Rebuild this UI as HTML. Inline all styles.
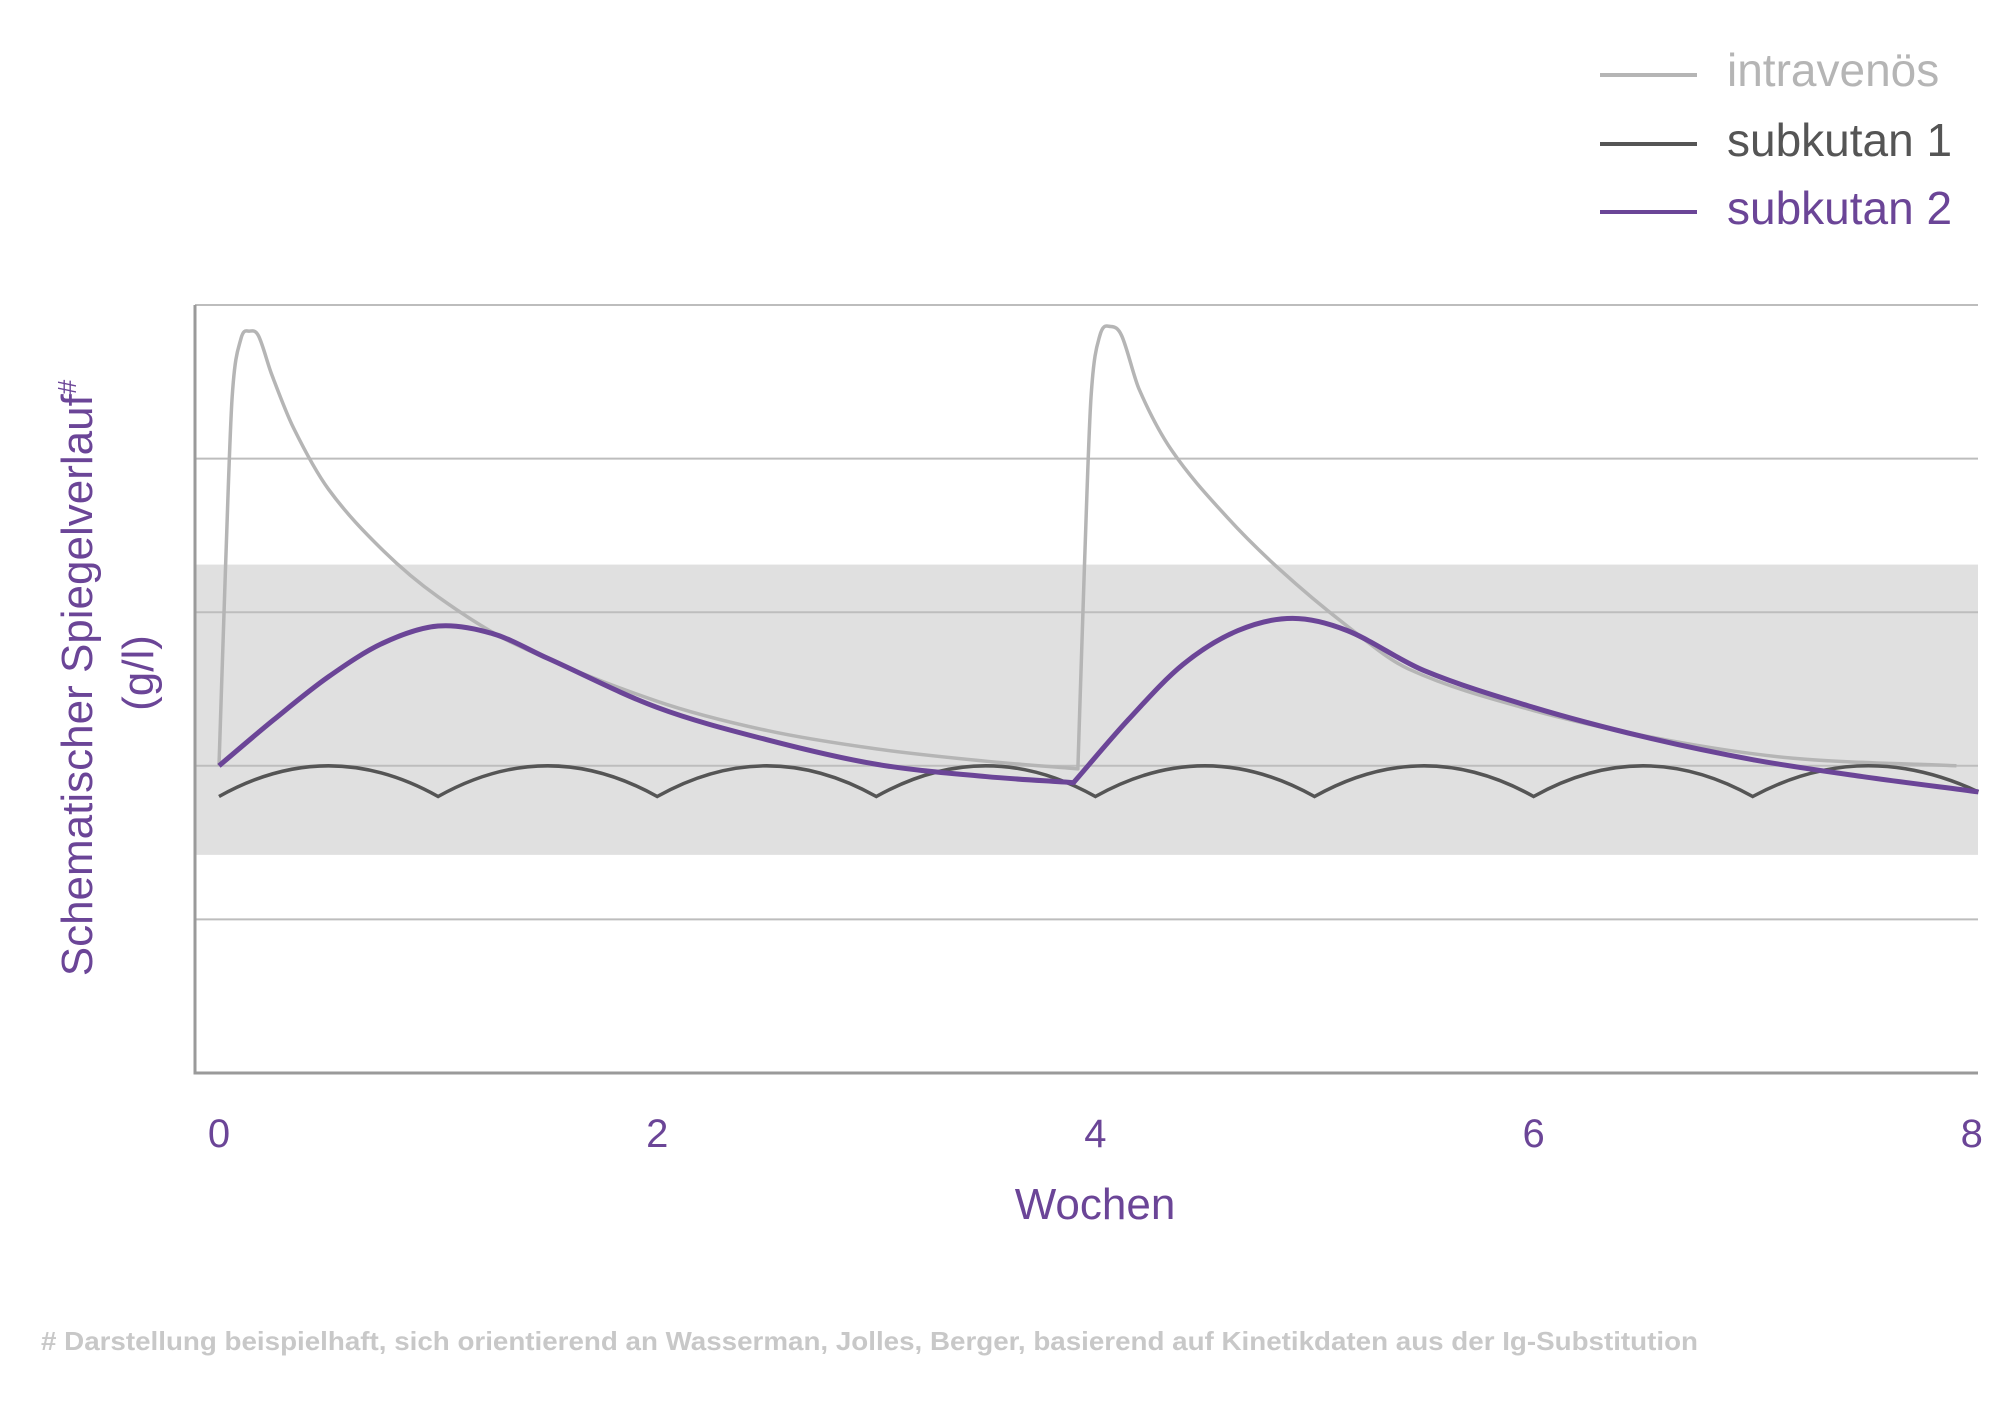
<!DOCTYPE html>
<html><head><meta charset="utf-8"><style>
html,body{margin:0;padding:0;background:#fff;}
svg{display:block;font-family:"Liberation Sans",sans-serif;}
</style></head><body>
<svg id="chart" width="2008" height="1428" viewBox="0 0 2008 1428">
  <g id="legend">
    <g>
      <line x1="1600" y1="75" x2="1697" y2="75" stroke="#b5b5b5" stroke-width="4"/>
      <text x="1727" y="86" font-size="46" fill="#b5b5b5">intravenös</text>
    </g>
    <g>
      <line x1="1600" y1="144" x2="1697" y2="144" stroke="#555" stroke-width="4"/>
      <text x="1727" y="156" font-size="46" fill="#555">subkutan 1</text>
    </g>
    <g>
      <line x1="1600" y1="212" x2="1697" y2="212" stroke="#6b4597" stroke-width="4"/>
      <text x="1727" y="224" font-size="46" fill="#6b4597">subkutan 2</text>
    </g>
  </g>
  <g id="plot"></g>
  <text x="1095" y="1219" font-size="44" fill="#6b4597" text-anchor="middle">Wochen</text>
  <text transform="translate(92,678) rotate(-90)" font-size="44" fill="#6b4597" text-anchor="middle">Schematischer Spiegelverlauf<tspan font-size="26" dy="-16">#</tspan></text>
  <text transform="translate(153,673) rotate(-90)" font-size="44" fill="#6b4597" text-anchor="middle">(g/l)</text>
  <text x="41" y="1350" font-size="26" fill="#c8c8c8" font-weight="bold" textLength="1657" lengthAdjust="spacingAndGlyphs"># Darstellung beispielhaft, sich orientierend an Wasserman, Jolles, Berger, basierend auf Kinetikdaten aus der Ig-Substitution</text>
</svg>
<script>
const xTicks = [0, 2, 4, 6, 8];
const yGrid = [1, 2, 3, 4, 5];
const band = [1.42, 3.31];
const ivTimes1 = [0, 0.03, 0.06, 0.1, 0.14, 0.18, 0.24, 0.34, 0.5, 0.75, 1.0, 1.34, 2.0, 2.5, 3.0, 3.5, 3.92];
const ivValues1 = [2.0, 3.3, 4.4, 4.78, 4.83, 4.8, 4.55, 4.2, 3.8, 3.4, 3.1, 2.8, 2.42, 2.23, 2.11, 2.03, 1.98];
const ivTimes2 = [3.92, 3.95, 3.98, 4.02, 4.07, 4.12, 4.2, 4.35, 4.6, 4.84, 5.14, 5.43, 6.0, 6.6, 7.18, 7.93];
const ivValues2 = [1.98, 3.3, 4.4, 4.8, 4.86, 4.8, 4.45, 4.05, 3.62, 3.28, 2.92, 2.63, 2.36, 2.17, 2.05, 2.0];
const s1Times = [0, 0.5, 1, 1.5, 2, 2.5, 3, 3.5, 4, 4.5, 5, 5.5, 6, 6.5, 7, 7.5, 8.03];
const s1Values = [1.8, 2.0, 1.8, 2.0, 1.8, 2.0, 1.8, 2.0, 1.8, 2.0, 1.8, 2.0, 1.8, 2.0, 1.8, 2.0, 1.83];
const s2Times1 = [0, 0.25, 0.5, 0.75, 1.0, 1.25, 1.5, 2.0, 2.5, 3.0, 3.5, 3.9];
const s2Values1 = [2.0, 2.3, 2.58, 2.8, 2.91, 2.86, 2.7, 2.38, 2.17, 2.01, 1.93, 1.89];
const s2Times2 = [3.9, 4.15, 4.4, 4.65, 4.9, 5.15, 5.5, 6.0, 6.5, 7.0, 7.5, 8.03];
const s2Values2 = [1.89, 2.3, 2.66, 2.88, 2.96, 2.88, 2.62, 2.38, 2.19, 2.04, 1.93, 1.83];

const X0 = 219, XPW = 219.1, Y0 = 1073, YPU = 153.6;
const AXL = 195, AXR = 1978, AXT = 305;
function xs(t){ return X0 + t * XPW; }
function ys(v){ return Y0 - v * YPU; }
const NS = 'http://www.w3.org/2000/svg';
const plot = document.getElementById('plot');
function mk(tag, attrs){ const e = document.createElementNS(NS, tag); for (const k in attrs) e.setAttribute(k, attrs[k]); plot.appendChild(e); return e; }

const b = mk('rect', {x: AXL, y: ys(band[1]), width: AXR - AXL, height: ys(band[0]) - ys(band[1]), fill: '#e0e0e0'});


yGrid.forEach(v => {
  const g = mk('line', {x1: AXL, x2: AXR, y1: ys(v), y2: ys(v), stroke: '#bdbdbd', 'stroke-width': 2});
  
  
});
const ax = mk('path', {d: `M${AXL},${AXT} V${Y0} H${AXR}`, fill: 'none', stroke: '#9a9a9a', 'stroke-width': 3});


xTicks.forEach(t => {
  const tx = mk('text', {x: xs(t), y: 1147, 'font-size': 40, fill: '#6b4597', 'text-anchor': 'middle'});
  tx.textContent = t;
  
  
});

function smoothPath(T, V, move){
  const n = T.length, px = T.map(xs), py = V.map(ys);
  const m = [];
  for (let i = 0; i < n; i++){
    const a = Math.max(0, i-1), c = Math.min(n-1, i+1);
    m.push((py[c]-py[a])/(px[c]-px[a]));
  }
  let s = move ? `M${px[0]},${py[0]}` : '';
  for (let i = 0; i < n - 1; i++){
    const h = (px[i+1]-px[i])/3;
    s += ` C${px[i]+h},${py[i]+m[i]*h} ${px[i+1]-h},${py[i+1]-m[i+1]*h} ${px[i+1]},${py[i+1]}`;
  }
  return s;
}
function scallopPath(T, V){
  let s = `M${xs(T[0])},${ys(V[0])}`;
  for (let i = 0; i + 2 < T.length; i += 2){
    const a = ys(V[i]), p = ys(V[i+1]), c = ys(V[i+2]);
    const cy = 2*p - (a+c)/2;
    s += ` Q${xs(T[i+1])},${cy} ${xs(T[i+2])},${c}`;
  }
  return s;
}
const l1 = mk('path', {d: smoothPath(ivTimes1, ivValues1, true) + smoothPath(ivTimes2, ivValues2, false), fill: 'none', stroke: '#b5b5b5', 'stroke-width': 3.5, 'stroke-linejoin': 'round'});


const l2 = mk('path', {d: scallopPath(s1Times, s1Values), fill: 'none', stroke: '#555', 'stroke-width': 3.5});


const l3 = mk('path', {d: smoothPath(s2Times1, s2Values1, true) + smoothPath(s2Times2, s2Values2, false), fill: 'none', stroke: '#6b4597', 'stroke-width': 5, 'stroke-linejoin': 'round'});


</script>
</body></html>
